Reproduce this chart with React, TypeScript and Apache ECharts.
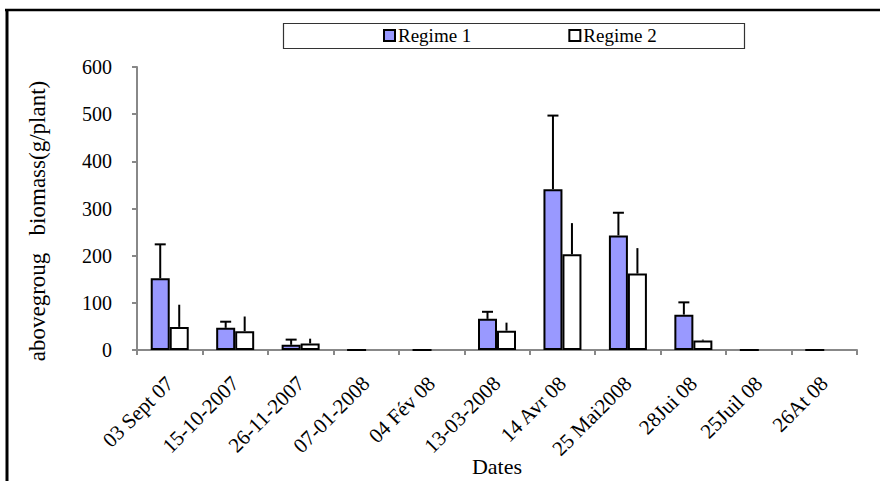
import React, { useEffect, useRef } from "react";
import * as echarts from "echarts";

const categories = [
  "03 Sept 07",
  "15-10-2007",
  "26-11-2007",
  "07-01-2008",
  "04 Fév 08",
  "13-03-2008",
  "14 Avr 08",
  "25 Mai2008",
  "28Jui 08",
  "25Juil 08",
  "26At 08",
];
const regime1 = [152, 47, 11, 0, 0, 66, 341, 243, 75, 0, 0];
const regime1Err = [72, 13, 11, 0, 0, 15, 156, 48, 26, 0, 0];
const regime2: (number | null)[] = [49, 40, 14, null, null, 41, 203, 162, 20, null, null];
const regime2Err: (number | null)[] = [47, 31, 10, null, null, 17, 66, 54, 2, null, null];
const yTicks = { min: 0, max: 600, interval: 100 };

const FONT = "'Liberation Serif', 'Times New Roman', serif";
const BAR_W = 19;

export default function App() {
  const ref = useRef<HTMLDivElement>(null);
  useEffect(() => {
    document.body.style.margin = "0";
    const chart = echarts.init(ref.current!, null, { renderer: "svg" });

    const errData = (vals: (number | null)[], errs: (number | null)[]) =>
      vals
        .map((v, i) => (v == null || errs[i] == null || errs[i] === 0 ? null : [i, v, errs[i]]))
        .filter((d) => d !== null);

    const makeRender = (offset: number, cap: boolean) => (params: any, api: any) => {
      const i = api.value(0);
      const v = api.value(1);
      const e = api.value(2);
      const base = api.coord([i, v]);
      const top = api.coord([i, v + e]);
      const x = base[0] + offset;
      const children: any[] = [
        {
          type: "line",
          shape: { x1: x, y1: base[1], x2: x, y2: top[1] },
          style: { stroke: "#000", lineWidth: 2 },
        },
      ];
      if (cap) {
        children.push({
          type: "line",
          shape: { x1: x - 5.5, y1: top[1], x2: x + 5.5, y2: top[1] },
          style: { stroke: "#000", lineWidth: 2 },
        });
      }
      return { type: "group", children };
    };

    chart.setOption({
      animation: false,
      textStyle: { fontFamily: FONT },
      grid: {
        left: 137,
        right: 23,
        top: 67,
        bottom: 131,
        containLabel: false,
        outerBoundsMode: "none",
      },
      legend: {
        data: [
          { name: "Regime 1", itemStyle: { color: "#9999FF", borderColor: "#000", borderWidth: 2 } },
          { name: "Regime 2", itemStyle: { color: "#FFFFFF", borderColor: "#000", borderWidth: 2 } },
        ],
        left: 383,
        top: 26,
        padding: 0,
        icon: "rect",
        itemWidth: 11,
        itemHeight: 11,
        itemGap: 97,
        textStyle: { fontFamily: FONT, fontSize: 19, color: "#000", padding: [0, 0, 0, -2] },
      },
      xAxis: {
        type: "category",
        data: categories,
        boundaryGap: true,
        name: "Dates",
        nameLocation: "middle",
        nameGap: 105,
        nameMoveOverlap: false,
        nameTextStyle: { fontFamily: FONT, fontSize: 22, color: "#000" },
        axisLine: { lineStyle: { color: "#888", width: 2 } },
        axisTick: { show: true, length: 5, lineStyle: { color: "#888", width: 2 } },
        axisLabel: {
          interval: 0,
          rotate: 45,
          margin: 30,
          fontFamily: FONT,
          fontSize: 21,
          color: "#000",
        },
        splitLine: { show: false },
      },
      yAxis: {
        type: "value",
        min: yTicks.min,
        max: yTicks.max,
        interval: yTicks.interval,
        name: "abovegroug   biomass(g/plant)",
        nameLocation: "middle",
        nameRotate: 90,
        nameGap: 88,
        nameMoveOverlap: false,
        nameTextStyle: { fontFamily: FONT, fontSize: 23, color: "#000", padding: [0, 25, 0, 0] },
        axisLine: { show: true, lineStyle: { color: "#888", width: 2 } },
        axisTick: { show: true, length: 5, lineStyle: { color: "#888", width: 2 } },
        axisLabel: { margin: 25, fontFamily: FONT, fontSize: 20, color: "#000" },
        splitLine: { show: false },
      },
      graphic: [
        {
          type: "line",
          shape: { x1: 5, y1: 10, x2: 880, y2: 10 },
          style: { stroke: "#000", lineWidth: 2.5 },
          z: 100,
        },
        {
          type: "line",
          shape: { x1: 7, y1: 9, x2: 7, y2: 481 },
          style: { stroke: "#000", lineWidth: 3 },
          z: 100,
        },
        {
          type: "rect",
          shape: { x: 283.5, y: 23.5, width: 461, height: 25 },
          style: { fill: "none", stroke: "#333", lineWidth: 1.2 },
          z: 100,
        },
      ],
      series: [
        {
          name: "Regime 1",
          type: "bar",
          data: regime1,
          barWidth: BAR_W,
          barGap: "0%",
          itemStyle: { color: "#9999FF", borderColor: "#000", borderWidth: 2 },
        },
        {
          name: "Regime 2",
          type: "bar",
          data: regime2,
          barWidth: BAR_W,
          barGap: "0%",
          itemStyle: { color: "#FFFFFF", borderColor: "#000", borderWidth: 2 },
        },
        {
          type: "custom",
          renderItem: makeRender(-BAR_W / 2, true),
          data: errData(regime1, regime1Err),
          encode: { x: 0, y: 1 },
          z: 3,
        },
        {
          type: "custom",
          renderItem: makeRender(BAR_W / 2, false),
          data: errData(regime2, regime2Err),
          encode: { x: 0, y: 1 },
          z: 3,
        },
      ],
    });
    return () => chart.dispose();
  }, []);
  return <div ref={ref} style={{ width: 880, height: 481 }} />;
}
